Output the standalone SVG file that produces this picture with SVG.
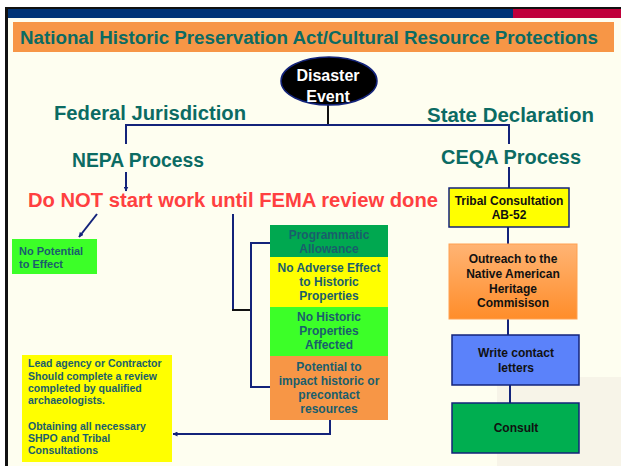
<svg xmlns="http://www.w3.org/2000/svg" width="621" height="466" viewBox="0 0 621 466">
<defs>
<marker id="ah" viewBox="0 0 10 10" refX="9" refY="5" markerWidth="5" markerHeight="5" orient="auto" markerUnits="userSpaceOnUse">
<path d="M0,0 L10,5 L0,10 z" fill="#13237A"/>
</marker>
<linearGradient id="og" x1="0" y1="0" x2="0" y2="1">
<stop offset="0" stop-color="#FFB474"/>
<stop offset="1" stop-color="#FF8D2A"/>
</linearGradient>
<style>
text{font-family:"Liberation Sans",Arial,sans-serif;font-weight:bold}
.h{fill:#0B6B63;font-size:20px}
.red{fill:#FF4040;font-size:20px}
.s{fill:#1A5E6C;font-size:12px}
.lead{fill:#1A5E6C;font-size:10.5px}
.b{fill:#111111;font-size:12px}
.c{stroke:#13237A;stroke-width:2;fill:none}
.k{stroke:#111111;stroke-width:2;fill:none}
</style>
</defs>
<rect x="0" y="0" width="621" height="466" fill="#FFFFFF"/>
<rect x="6" y="8" width="615" height="458" fill="#FEFEF0"/>
<rect x="497" y="377" width="124" height="89" fill="#F7F4E8"/>
<rect x="6" y="7" width="615" height="2" fill="#111111"/>
<rect x="8" y="9" width="505" height="9" fill="#003375"/>
<rect x="513" y="9" width="108" height="9" fill="#C0003A"/>
<rect x="5" y="7" width="3" height="459" fill="#111111"/>

<g id="title">
<rect x="13" y="22" width="601" height="30" fill="#F79646"/>
<text x="20" y="44" font-size="18" fill="#0B6B63" textLength="578" lengthAdjust="spacingAndGlyphs">National Historic Preservation Act/Cultural Resource Protections</text>
</g>

<g id="connectors">
<line x1="328" y1="105" x2="328" y2="125" class="k"/>
<polyline points="126,144 126,125 509,125 509,144" class="c"/>
<line x1="126" y1="172" x2="126" y2="191" class="c" marker-end="url(#ah)"/>
<line x1="509" y1="167" x2="509" y2="188" class="c"/>
<line x1="97" y1="214" x2="79" y2="237" class="c" marker-end="url(#ah)"/>
<line x1="233" y1="214" x2="233" y2="310" class="c"/>
<line x1="232" y1="310" x2="251" y2="310" class="k"/>
<polyline points="270,243 251,243 251,387 270,387" class="c"/>
<polyline points="330,420 330,434 173,434" class="c" marker-end="url(#ah)"/>
<line x1="508" y1="227" x2="508" y2="244" class="c"/>
<line x1="508" y1="319" x2="508" y2="335" class="c"/>
<line x1="510" y1="385" x2="510" y2="403" class="c"/>
</g>

<g id="disaster-event">
<ellipse cx="329" cy="81" rx="48" ry="24" fill="#000000" stroke="#13237A" stroke-width="1.5"/>
<text x="328" y="81" font-size="16" fill="#FFFFFF" text-anchor="middle">Disaster</text>
<text x="328" y="102" font-size="16" fill="#FFFFFF" text-anchor="middle">Event</text>
</g>

<g id="federal-jurisdiction">
<text x="54" y="120" class="h" textLength="192" lengthAdjust="spacingAndGlyphs">Federal Jurisdiction</text>
</g>
<g id="nepa-process">
<text x="72" y="167" class="h" textLength="132" lengthAdjust="spacingAndGlyphs">NEPA Process</text>
</g>
<g id="state-declaration">
<text x="427" y="122" class="h" textLength="167" lengthAdjust="spacingAndGlyphs">State Declaration</text>
</g>
<g id="ceqa-process">
<text x="441" y="164" class="h" textLength="140" lengthAdjust="spacingAndGlyphs">CEQA Process</text>
</g>
<g id="do-not-start">
<text x="28" y="207" class="red" textLength="410" lengthAdjust="spacingAndGlyphs">Do NOT start work until FEMA review done</text>
</g>

<g id="no-potential">
<rect x="12" y="239" width="85" height="35" fill="#3CFF28"/>
<text x="19" y="255" font-size="11" fill="#1A5E6C">No Potential</text>
<text x="19" y="268" font-size="11" fill="#1A5E6C">to Effect</text>
</g>

<g id="programmatic-allowance">
<rect x="270" y="225" width="118" height="32" fill="#00A850"/>
<text x="329" y="239" class="s" text-anchor="middle" fill="#1D6E66">Programmatic</text>
<text x="329" y="253" class="s" text-anchor="middle" fill="#1D6E66">Allowance</text>
</g>
<g id="no-adverse-effect">
<rect x="270" y="257" width="118" height="50" fill="#FFFF00"/>
<text x="329" y="272" class="s" text-anchor="middle">No Adverse Effect</text>
<text x="329" y="286" class="s" text-anchor="middle">to Historic</text>
<text x="329" y="300" class="s" text-anchor="middle">Properties</text>
</g>
<g id="no-historic-properties">
<rect x="270" y="307" width="118" height="49" fill="#3CFF28"/>
<text x="329" y="321" class="s" text-anchor="middle">No Historic</text>
<text x="329" y="335" class="s" text-anchor="middle">Properties</text>
<text x="329" y="349" class="s" text-anchor="middle">Affected</text>
</g>
<g id="potential-to-impact">
<rect x="270" y="356" width="118" height="64" fill="#F79646"/>
<text x="329" y="371" class="s" text-anchor="middle">Potential to</text>
<text x="329" y="385" class="s" text-anchor="middle">impact historic or</text>
<text x="329" y="399" class="s" text-anchor="middle">precontact</text>
<text x="329" y="413" class="s" text-anchor="middle">resources</text>
</g>

<g id="lead-agency">
<rect x="22" y="355" width="150" height="107" fill="#FFFF00"/>
<text x="28" y="367" class="lead">Lead agency or Contractor</text>
<text x="28" y="380" class="lead">Should complete a review</text>
<text x="28" y="392" class="lead">completed by qualified</text>
<text x="28" y="404" class="lead">archaeologists.</text>
<text x="28" y="430" class="lead">Obtaining all necessary</text>
<text x="28" y="442" class="lead">SHPO and Tribal</text>
<text x="28" y="454" class="lead">Consultations</text>
</g>

<g id="tribal-consultation">
<rect x="449" y="188" width="120" height="39" fill="#FFFF00" stroke="#13237A" stroke-width="1.5"/>
<text x="509" y="205" class="b" font-size="11.5" text-anchor="middle">Tribal Consultation</text>
<text x="509" y="219" class="b" font-size="11.5" text-anchor="middle">AB-52</text>
</g>
<g id="outreach">
<rect x="449" y="244" width="128" height="75" fill="url(#og)" stroke="#FFA050" stroke-width="1"/>
<text x="513" y="263" class="b" text-anchor="middle">Outreach to the</text>
<text x="513" y="278" class="b" text-anchor="middle">Native American</text>
<text x="513" y="293" class="b" text-anchor="middle">Heritage</text>
<text x="513" y="307" class="b" text-anchor="middle">Commisison</text>
</g>
<g id="write-contact-letters">
<rect x="452" y="335" width="127" height="50" fill="#5B82FA" stroke="#13237A" stroke-width="1.5"/>
<text x="516" y="357" class="b" text-anchor="middle">Write contact</text>
<text x="516" y="372" class="b" text-anchor="middle">letters</text>
</g>
<g id="consult">
<rect x="452" y="403" width="127" height="50" fill="#00AE50" stroke="#13237A" stroke-width="1.5"/>
<text x="516" y="432" class="b" text-anchor="middle">Consult</text>
</g>
</svg>
